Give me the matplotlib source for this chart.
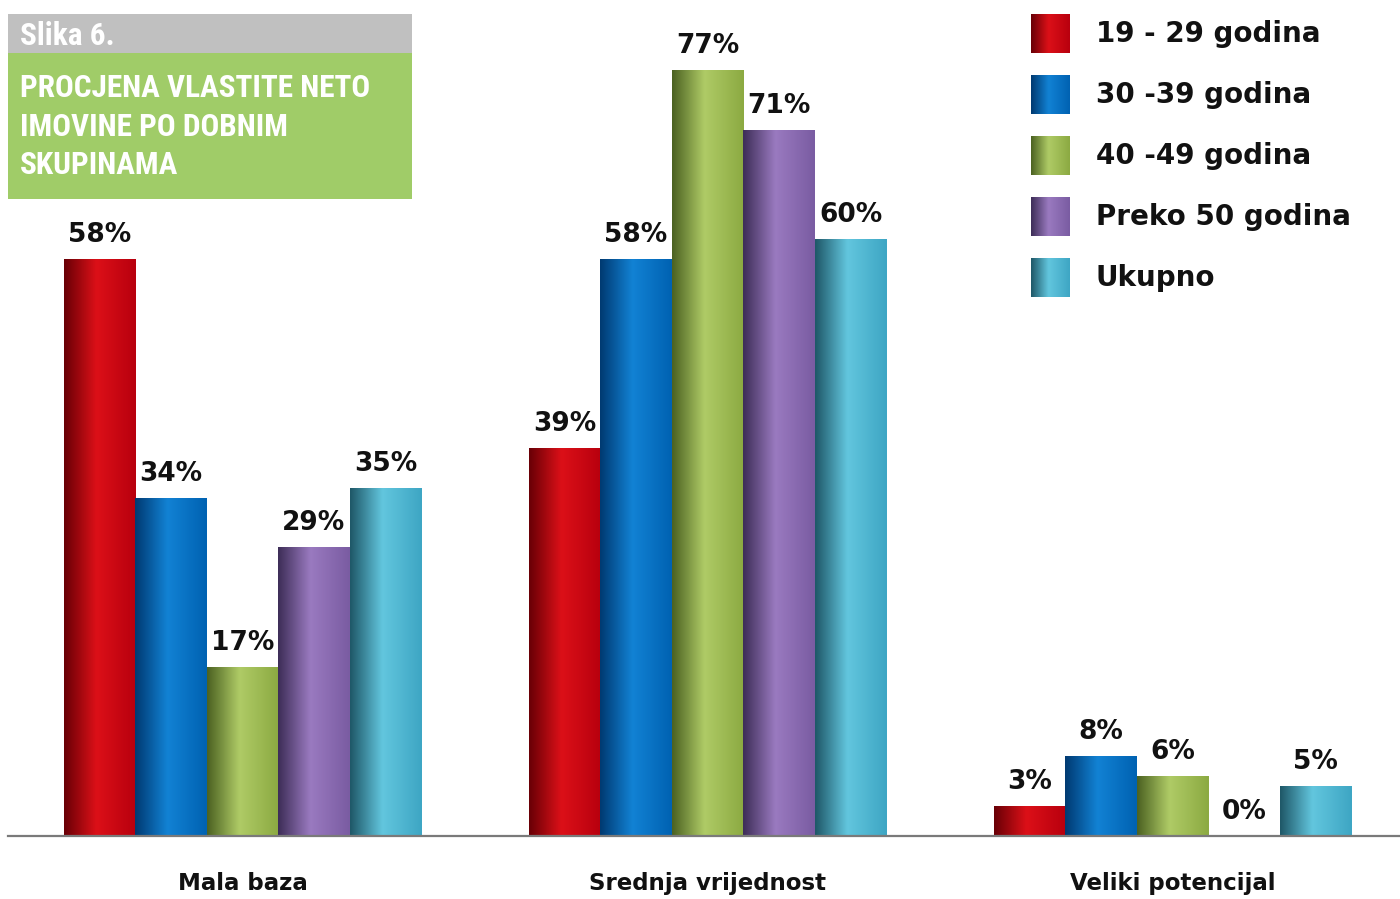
import numpy as np
import matplotlib
matplotlib.use("Agg")
import matplotlib.pyplot as plt
from matplotlib import font_manager
from matplotlib.colors import LinearSegmentedColormap

# Data
categories = ["Mala baza", "Srednja vrijednost", "Veliki potencijal"]
series = ["19 - 29 godina", "30 -39 godina", "40 -49 godina", "Preko 50 godina", "Ukupno"]
v_19_29 = [58, 39, 3]
v_30_39 = [34, 58, 8]
v_40_49 = [17, 77, 6]
v_50 = [29, 71, 0]
v_total = [35, 60, 5]
values = [v_19_29, v_30_39, v_40_49, v_50, v_total]

# gradient stops per series: dark edge, highlight, right edge
grads = [
    ["#6a0006", "#dc1018", "#b8000e"],
    ["#003a72", "#1282d4", "#0062b2"],
    ["#4c6222", "#afcb66", "#8caa42"],
    ["#3e2e58", "#9a7ac0", "#7a5ca2"],
    ["#1f5868", "#62c6de", "#3ea6c4"],
]
cmaps = [LinearSegmentedColormap.from_list("g%d" % i, [(0, g[0]), (0.45, g[1]), (1, g[2])])
         for i, g in enumerate(grads)]
ramp = np.linspace(0, 1, 64)[np.newaxis, :]


def pick_font(names):
    for n in names:
        try:
            font_manager.findfont(font_manager.FontProperties(family=n, weight="bold"),
                                  fallback_to_default=False)
            return n
        except Exception:
            pass
    return None


narrow = pick_font(["Liberation Sans Narrow", "DejaVu Sans Condensed", "Roboto Condensed",
                    "Open Sans Condensed"])
title_family = [narrow, "DejaVu Sans"] if narrow else ["DejaVu Sans"]
title_size = 22.5 if narrow else 17

fig = plt.figure(figsize=(14, 8.99), dpi=100)
fig.patch.set_facecolor("white")

ax = fig.add_axes([8 / 1400, 63 / 899, 1392 / 1400, 836 / 899])
ax.set_facecolor("none")

width = 1 / 6.5
x = np.arange(len(categories))
for i, vals in enumerate(values):
    pos = x + (i - 2) * width
    bars = ax.bar(pos, vals, width, color="none", edgecolor="none")
    for rect, v in zip(bars, vals):
        x0 = rect.get_x()
        if v > 0:
            ax.imshow(ramp, cmap=cmaps[i], aspect="auto", zorder=2,
                      extent=[x0, x0 + rect.get_width(), 0, v], interpolation="bicubic")
        ax.annotate("%d%%" % v, (x0 + rect.get_width() / 2, v), xytext=(0, 12.5),
                    textcoords="offset points", ha="center", va="baseline",
                    fontsize=19, fontweight="bold", color="#111111")

ax.set_xlim(-0.504, 2.489)
ax.set_ylim(0, 84.1)
for s in ["top", "left", "right"]:
    ax.spines[s].set_visible(False)
ax.spines["bottom"].set_color("#7a7a7a")
ax.spines["bottom"].set_linewidth(1.6)
ax.set_yticks([])
ax.set_xticks(x)
ax.set_xticklabels(categories, fontsize=16.5, fontweight="bold", color="#111111")
ax.tick_params(axis="x", length=0, pad=26)

# title box
fig.patches.append(plt.Rectangle((8 / 1400, 1 - 53 / 899), 404 / 1400, 39 / 899,
                                 transform=fig.transFigure, facecolor="#c0c0c0", edgecolor="none"))
fig.patches.append(plt.Rectangle((8 / 1400, 1 - 199 / 899), 404 / 1400, 146 / 899,
                                 transform=fig.transFigure, facecolor="#a0cc68", edgecolor="none"))
fig.text(20 / 1400, 1 - 45 / 899, "Slika 6.", family=title_family, fontweight="bold",
         fontsize=title_size, color="white", va="baseline")
title_lines = ["PROCJENA VLASTITE NETO", "IMOVINE PO DOBNIM", "SKUPINAMA"]
for k, line in enumerate(title_lines):
    fig.text(20 / 1400, 1 - (97 + 38.5 * k) / 899, line, family=title_family, fontweight="bold",
             fontsize=title_size, color="white", va="baseline")

# legend
for i, name in enumerate(series):
    top = 14 + i * 61
    lax = fig.add_axes([1031 / 1400, 1 - (top + 39) / 899, 39 / 1400, 39 / 899])
    lax.imshow(ramp, cmap=cmaps[i], aspect="auto", interpolation="bicubic")
    lax.axis("off")
    fig.text(1096 / 1400, 1 - (top + 20) / 899, name, fontsize=20, fontweight="bold",
             color="#111111", va="center")

fig.savefig("out.png", dpi=100, facecolor="white")
